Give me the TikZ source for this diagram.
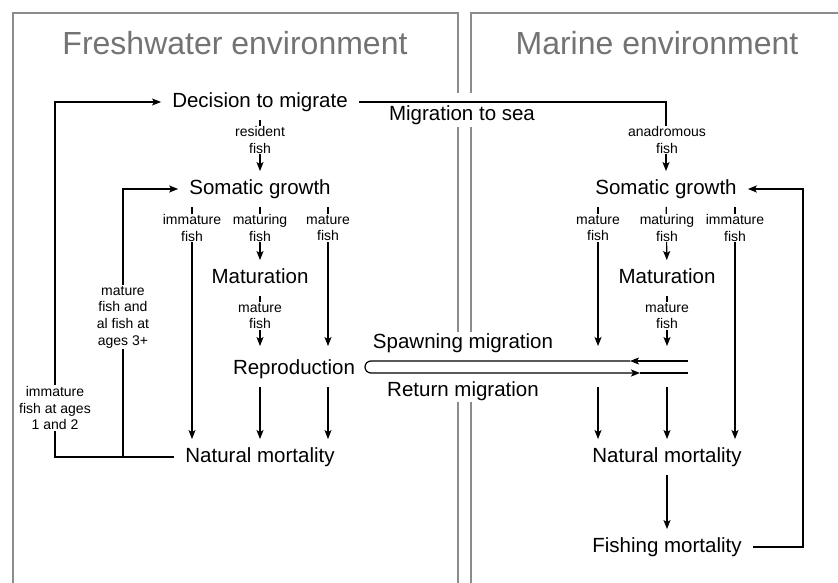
\documentclass[tikz,border=0pt]{standalone}
\usepackage{fontspec}
\setmainfont{Liberation Sans}
\usetikzlibrary{arrows.meta,backgrounds}

\begin{document}
\begin{tikzpicture}[
		x=1pt,y=-1pt,
		inp/.style = {-{Stealth[length=9pt,width=7pt,inset=2pt]}, line width=1.2pt},
		plain/.style = {line width=1.2pt},
		frame/.style = {draw=black!45, line width=2.4pt},
		envtitle/.style = {text=black!55, font=\fontsize{32}{38}\selectfont},
		stage/.style = {font=\fontsize{20.5}{24}\selectfont, inner xsep=11pt, inner ysep=8pt, text height=15pt, text depth=4.5pt},
		route/.style = {font=\fontsize{20.5}{24}\selectfont, inner sep=1pt},
		fishlbl/.style = {font=\fontsize{14}{16.7}\selectfont, align=center, fill=white, inner sep=1pt}
	]
	\useasboundingbox (0,0) rectangle (838,583);

	\node (freshTitle) [envtitle, anchor=base] at (235,55) {Freshwater environment};
	\node (marineTitle) [envtitle, anchor=base] at (657,55) {Marine environment};

	\node (dec) [stage] at (260,102) {Decision to migrate};
	\node (somFresh) [stage] at (260,189) {Somatic growth};
	\node (matFresh) [stage] at (260,278) {Maturation};
	\node (repro) [stage] at (294,369) {Reproduction};
	\node (natFresh) [stage] at (260,457) {Natural mortality};
	\node (somSea) [stage] at (666,189) {Somatic growth};
	\node (matSea) [stage] at (667,278) {Maturation};
	\node (natSea) [stage] at (667,457) {Natural mortality};
	\node (fishing) [stage] at (667,547) {Fishing mortality};

	\node (toSea) [route] at (462,115) {Migration to sea};
	\node (spawning) [route] at (463,343) {Spawning migration};
	\node (return) [route] at (463,391) {Return migration};

	\node (resident) [fishlbl] at (260,140) {resident\\fish};
	\node (anadromous) [fishlbl] at (667,140) {anadromous\\fish};
	\node (immFresh) [fishlbl] at (192,228) {immature\\fish};
	\node (matgFresh) [fishlbl] at (260,228) {maturing\\fish};
	\node (matrFresh) [fishlbl] at (328,228) {mature\\fish};
	\node (matrSea) [fishlbl] at (598,228) {mature\\fish};
	\node (matgSea) [fishlbl] at (667,228) {maturing\\fish};
	\node (immSea) [fishlbl] at (735,228) {immature\\fish};
	\node (spawnFresh) [fishlbl] at (260,316) {mature\\fish};
	\node (spawnSea) [fishlbl] at (667,316) {mature\\fish};
	\node (ages12) [fishlbl] at (55,408) {immature\\fish at ages\\1 and 2};
	\node (ages3) [fishlbl] at (123,317) {mature\\fish and\\al fish at\\ages 3+};

	\coordinate (loopA) at (55,457);
	\coordinate (loopB) at (123,457);
	\coordinate (loopSea) at (803,547);
	\coordinate (spawnTop) at (688,361);
	\coordinate (spawnTip) at (630,361);
	\coordinate (bendTop) at (371,361);
	\coordinate (returnTip) at (640,373);
	\coordinate (spawnBot) at (688,373);

	\begin{scope}[on background layer]
		% environment boxes
		\draw [frame] (13,583) -- (13,13) -- (458,13) -- (458,93);
		\draw [frame] (458,127) -- (458,332);
		\draw [frame] (458,402) -- (458,583);
		\draw [frame] (840,13) -- (471,13) -- (471,93);
		\draw [frame] (471,127) -- (471,332);
		\draw [frame] (471,402) -- (471,583);

		% freshwater
		\path [inp] (dec) edge (somFresh);
		\path [inp] (somFresh.south -| immFresh) edge (natFresh.north -| immFresh);
		\path [inp] (somFresh) edge (matFresh);
		\path [inp, shorten >=5pt] (somFresh.south -| matrFresh) edge (repro.north -| matrFresh);
		\path [inp, shorten >=5pt] (matFresh) edge (repro.north -| matFresh);
		\path [inp] (repro.south -| matFresh) edge (natFresh);
		\path [inp] (repro.south -| matrFresh) edge (natFresh.north -| matrFresh);
		\draw [inp] (natFresh) -- (loopA) |- (dec);
		\draw [inp] (loopB) |- (somFresh);

		% marine
		\draw [inp] (dec) -| (somSea);
		\path [inp, shorten >=5pt] (somSea.south -| matrSea) edge (repro.north -| matrSea);
		\path [inp] (somSea) edge (matSea);
		\path [inp, shorten >=5pt] (matSea) edge (repro.north -| matSea);
		\path [inp] (somSea.south -| immSea) edge (natSea.north -| immSea);
		\path [inp] (repro.south -| matrSea) edge (natSea.north -| matrSea);
		\path [inp] (repro.south -| matSea) edge (natSea);
		\path [inp] (natSea) edge (fishing);
		\draw [inp] (fishing) -- (loopSea) |- (somSea);

		% spawning and return
		\draw [inp] (spawnTop) -- (spawnTip);
		\draw [inp] (spawnTip) -- (bendTop) arc[start angle=90, end angle=270, radius=6pt] -- (returnTip);
		\draw [plain] (returnTip) -- (spawnBot);
	\end{scope}
\end{tikzpicture}
\end{document}
